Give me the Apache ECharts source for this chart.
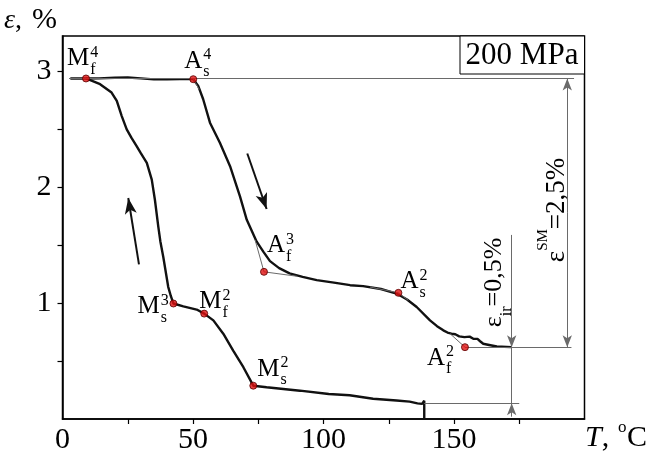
<!DOCTYPE html>
<html>
<head>
<meta charset="utf-8">
<script src="https://cdn.jsdelivr.net/npm/echarts@6/dist/echarts.min.js"></script>
<style>
  html, body { margin: 0; padding: 0; background: #fff; }
  #chart { width: 650px; height: 462px; }
</style>
</head>
<body>
<div id="chart"></div>
<script>
// heating branch (M_f^4 -> A_s^4 -> A_f^3 -> A_s^2 -> A_f^2)
const heatT   = [3, 9, 14, 20, 25, 30, 35, 40, 45, 50.1, 52, 53.9, 56.5, 60.3, 64.2, 68, 70.6, 74.4, 77, 79.5, 83, 87, 92, 97.4, 104, 110.2, 115.2, 122, 128, 132, 135.7, 140.8, 143.5, 145.9, 147.5, 149, 150.5, 152, 154, 156, 157.4, 159, 160, 161.2, 163, 166.4, 172.1];
const heatEps = [2.934, 2.934, 2.935, 2.94, 2.942, 2.935, 2.926, 2.926, 2.928, 2.928, 2.87, 2.755, 2.553, 2.38, 2.178, 1.918, 1.716, 1.528, 1.44, 1.36, 1.30, 1.255, 1.225, 1.197, 1.175, 1.153, 1.145, 1.12, 1.081, 1.03, 0.965, 0.85, 0.80, 0.764, 0.745, 0.735, 0.73, 0.712, 0.705, 0.71, 0.692, 0.69, 0.67, 0.648, 0.64, 0.625, 0.619];

// cooling branch (from 138 C down to M_f^4)
const coolT   = [138.6, 138.6, 137.8, 136, 133, 128, 119, 110, 102, 91, 78.2, 73.1, 69.3, 65.4, 61.6, 57.8, 54.3, 51.4, 46.3, 42.5, 41.5, 40.5, 38.6, 37.5, 36.7, 35.4, 34.2, 32.3, 30, 28.4, 26.5, 24.6, 22.7, 20.8, 18.8, 14.4, 9];
const coolEps = [0, 0.158, 0.13, 0.135, 0.15, 0.16, 0.175, 0.205, 0.215, 0.244, 0.273, 0.287, 0.446, 0.59, 0.735, 0.85, 0.908, 0.943, 0.971, 0.995, 1.06, 1.139, 1.398, 1.53, 1.658, 1.889, 2.062, 2.207, 2.29, 2.351, 2.42, 2.495, 2.61, 2.74, 2.813, 2.885, 2.934];

// characteristic points
const pointBase = ['M', 'A', 'A', 'A', 'A', 'M', 'M', 'M'];
const pointSup  = ['4', '4', '3', '2', '2', '3', '2', '2'];
const pointSub  = ['f', 's', 'f', 's', 'f', 's', 'f', 's'];
const pointT    = [9.0, 50.1, 77.2, 128.7, 154.2, 42.5, 54.3, 73.1];
const pointEps  = [2.934, 2.928, 1.268, 1.087, 0.619, 0.995, 0.908, 0.287];

// tangent construction lines
const tangentLines = [
  [[50.1, 2.928], [52.4, 2.84]],
  [[73.8, 1.543], [77.2, 1.268], [89.8, 1.23]],
  [[117.8, 1.137], [128.7, 1.087], [132.5, 1.023]],
  [[148.5, 0.735], [154.2, 0.619]]
];

// levels used for the strain dimensions
const levelTop = 2.934;    // start of heating
const levelAf2 = 0.619;    // end of heating
const levelEnd = 0.135;    // end of cooling
const dimIrT = 172.1;      // x of the eps_ir dimension
const dimSmT = 193.4;      // x of the eps_SM dimension

// direction arrows along the loop
const upArrow   = [[29.3, 1.333], [25.2, 1.904]];
const downArrow = [[70.8, 2.288], [78.2, 1.809]];

const xTickLabels = [0, 50, 100, 150];
const xTicks = [25, 50, 75, 100, 125, 150, 175];
const yTickLabels = [1, 2, 3];
const yTicks = [0.5, 1, 1.5, 2, 2.5, 3];

const FONT = "'Liberation Serif','Times New Roman',serif";
const zip = (a, b) => a.map((v, i) => [v, b[i]]);

const chart = echarts.init(document.getElementById('chart'));

const grayLine = { color: '#6a6a6a', width: 1, type: 'solid' };
const seg = (a, b, sym) => [
  { coord: a, symbol: sym ? sym[0] : 'none' },
  { coord: b, symbol: sym ? sym[1] : 'none' }
];

const series = [
  {
    type: 'line', data: zip(heatT, heatEps), symbol: 'none', z: 3,
    lineStyle: { color: '#111', width: 2.4 }
  },
  {
    type: 'line', data: zip(coolT, coolEps), symbol: 'none', z: 3,
    lineStyle: { color: '#111', width: 2.4 }
  }
];
tangentLines.forEach(l => series.push({
  type: 'line', data: l, symbol: 'none', z: 4, lineStyle: grayLine
}));
// reference lines, dimensions and direction arrows
series.push({
  type: 'line', data: [], z: 5,
  markLine: {
    silent: true, animation: false,
    label: { show: false },
    symbolSize: [7, 12],
    lineStyle: grayLine,
    data: [
      seg([2.5, levelTop], [196, levelTop]),
      seg([pointT[4], levelAf2], [195, levelAf2]),
      seg([138.6, levelEnd], [175, levelEnd]),
      seg([dimIrT, 1.586], [dimIrT, levelAf2], ['none', 'arrow']),
      seg([dimIrT, levelAf2], [dimIrT, levelEnd]),
      seg([dimIrT, 0.02], [dimIrT, levelEnd], ['none', 'arrow']),
      seg([dimSmT, (levelTop + levelAf2) / 2], [dimSmT, levelTop], ['none', 'arrow']),
      seg([dimSmT, (levelTop + levelAf2) / 2], [dimSmT, levelAf2], ['none', 'arrow'])
    ]
  }
});
series.push({
  type: 'line', data: [], z: 5,
  markLine: {
    silent: true, animation: false,
    label: { show: false },
    symbolSize: [9, 16],
    lineStyle: { color: '#111', width: 2, type: 'solid' },
    data: [
      seg(upArrow[0], upArrow[1], ['none', 'arrow']),
      seg(downArrow[0], downArrow[1], ['none', 'arrow'])
    ]
  }
});
series.push({
  type: 'scatter', z: 6,
  data: zip(pointT, pointEps),
  symbolSize: 7,
  itemStyle: { color: '#e01010', borderColor: '#5a0000', borderWidth: 1 }
});

chart.setOption({
  animation: false,
  backgroundColor: '#fff',
  grid: {
    left: 62.5, right: 65.5, top: 36, bottom: 43,
    show: true, borderColor: '#000', borderWidth: 1.5
  },
  xAxis: {
    type: 'value', min: 0, max: 200,
    splitLine: { show: false },
    axisLine: { lineStyle: { color: '#000', width: 1.5 } },
    axisTick: { customValues: xTicks, length: 5, lineStyle: { color: '#000', width: 1.2 } },
    axisLabel: {
      customValues: xTickLabels, margin: 6,
      color: '#000', fontSize: 30, fontFamily: FONT
    }
  },
  yAxis: {
    type: 'value', min: 0, max: 3.3,
    splitLine: { show: false },
    axisLine: { lineStyle: { color: '#000', width: 1.5 } },
    axisTick: { customValues: yTicks, length: 5, lineStyle: { color: '#000', width: 1.2 } },
    axisLabel: {
      customValues: yTickLabels, margin: 11,
      color: '#000', fontSize: 30, fontFamily: FONT
    }
  },
  series: series
});

// ---- texts ----
const ctx = document.createElement('canvas').getContext('2d');
function tw(t, size, italic) {
  ctx.font = (italic ? 'italic ' : '') + size + 'px ' + FONT;
  return ctx.measureText(t).width;
}
function txt(x, y, t, size, italic) {
  return {
    type: 'text', x: x, y: y, silent: true,
    style: {
      text: t, fontSize: size, fontFamily: FONT, fontStyle: italic ? 'italic' : 'normal',
      fill: '#000', align: 'left', verticalAlign: 'middle'
    }
  };
}
const px = (p) => chart.convertToPixel({ xAxisIndex: 0, yAxisIndex: 0 }, p);

// label offsets of point names from their dots (pixels)
const labelOffset = [[-19, -20], [-9, -18], [3, -26], [2, -11], [-38, 11], [-36, 3], [-5, -12], [4, -16.5]];

const graphic = [];
pointT.forEach((t, i) => {
  const p = px([t, pointEps[i]]);
  const left = p[0] + labelOffset[i][0];
  const cy = p[1] + labelOffset[i][1];
  const w = tw(pointBase[i], 25);
  graphic.push(txt(left, cy, pointBase[i], 25));
  graphic.push(txt(left + w + 1, cy - 6, pointSup[i], 16));
  graphic.push(txt(left + w + 1, cy + 11, pointSub[i], 16));
});

// eps_ir = 0,5%  (rotated, reading upward)
{
  const p = px([dimIrT, levelAf2]);
  const w1 = tw('ε', 26), w2 = tw('ir', 16);
  graphic.push({
    type: 'group', x: p[0] - 9, y: p[1] - 20, rotation: Math.PI / 2,
    children: [
      txt(0, -9, 'ε', 26),
      txt(w1, 4, 'ir', 16),
      txt(w1 + w2, -9, '=0,5%', 26)
    ]
  });
}
// eps^SM = 2,5%
{
  const p = px([dimSmT, levelAf2]);
  const w1 = tw('ε', 27), w2 = tw('SM', 15);
  graphic.push({
    type: 'group', x: p[0] - 1, y: p[1] - 85, rotation: Math.PI / 2,
    children: [
      txt(0, -9, 'ε', 27),
      txt(w1, -23, 'SM', 15),
      txt(w1 + w2, -9, '=2,5%', 27)
    ]
  });
}

// axis titles
{
  const we = tw('ε', 28, true);
  graphic.push(txt(4, 21, 'ε', 28, true));
  graphic.push(txt(4 + we, 21, ',', 28));
  graphic.push(txt(32, 20, '%', 30));
  const wt = tw('T', 30, true);
  graphic.push(txt(585, 438, 'T', 30, true));
  graphic.push(txt(585 + wt, 438, ',', 30));
  graphic.push(txt(618, 428, 'o', 17));
  graphic.push(txt(627, 438, 'C', 30));
}

// pressure box
graphic.push({
  type: 'rect', silent: true,
  shape: { x: 460, y: 36, width: 124.5, height: 38 },
  style: { fill: '#fff', stroke: '#000', lineWidth: 1 }, z: 10
});
graphic.push(Object.assign(txt(522, 56, '200 MPa', 31), { z: 11 }));
graphic[graphic.length - 1].style.align = 'center';

chart.setOption({ graphic: graphic });
</script>
</body>
</html>
